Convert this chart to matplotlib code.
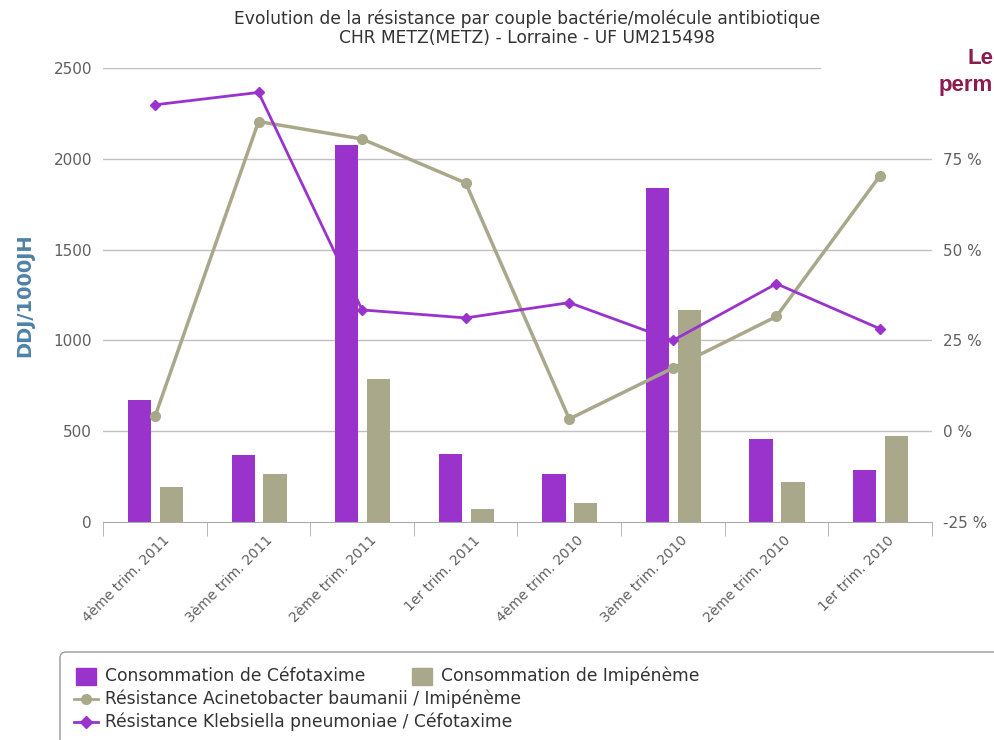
import numpy as np
import matplotlib
matplotlib.use('Agg')
from matplotlib import pyplot as plt
from matplotlib.patches import FancyBboxPatch, Rectangle
from matplotlib.lines import Line2D
import matplotlib.transforms as mtransforms

categories = ['4ème trim. 2011', '3ème trim. 2011', '2ème trim. 2011', '1er trim. 2011',
              '4ème trim. 2010', '3ème trim. 2010', '2ème trim. 2010', '1er trim. 2010']
conso_cefotaxime = [675, 370, 2075, 376, 264, 1840, 460, 288]
conso_imipeneme = [195, 263, 787, 73, 108, 1168, 220, 475]
resist_acinetobacter = [4.1, 85.2, 80.4, 68.3, 3.4, 17.4, 31.6, 70.3]
resist_klebsiella = [89.8, 93.2, 33.4, 31.2, 35.4, 25.0, 40.6, 28.2]

left_ticks = [0, 500, 1000, 1500, 2000, 2500]
right_ticks = [-25, 0, 25, 50, 75]
right_labels = ['-25 %', '0 %', '25 %', '50 %', '75 %']

purple = '#9933CC'
tan = '#A9A88B'
grid_col = '#C0C0C0'
txt_col = '#606060'

fig = plt.figure(figsize=(9.94, 7.40), dpi=100)
ax = fig.add_axes([0.1038, 0.2942, 0.8336, 0.6143])
x = np.arange(len(categories))

# horizontal grid (top one is cut by the box on the right)
for v in left_ticks[1:-1]:
    ax.axhline(v, color=grid_col, lw=1, zorder=0)
ax.axhline(2500, xmax=(820 - 103) / 829, color=grid_col, lw=1, zorder=0)

ax.bar(x - 0.148, conso_cefotaxime, width=0.225, color=purple, zorder=2)
ax.bar(x + 0.160, conso_imipeneme, width=0.225, color=tan, zorder=2)

ax.set_xlim(-0.5, len(categories) - 0.5)
ax.set_ylim(0, 2500)
ax.set_yticks(left_ticks)
ax.tick_params(axis='y', length=0, pad=8, labelcolor=txt_col, labelsize=11)
for s in ['left', 'right', 'top']:
    ax.spines[s].set_visible(False)
ax.spines['bottom'].set_color('#AAAAAA')

ax.set_xticks(x)
ax.set_xticklabels(categories, rotation=45, ha='right', color=txt_col, fontsize=10)
ax.set_xticks(np.arange(-0.5, len(categories), 1), minor=True)
ax.tick_params(axis='x', which='major', length=0, pad=8)
ax.tick_params(axis='x', which='minor', length=10, color='#AAAAAA')
shift = mtransforms.ScaledTranslation(0.17, 0, fig.dpi_scale_trans)
for lab in ax.get_xticklabels():
    lab.set_transform(lab.get_transform() + shift)

ax2 = ax.twinx()
ax2.set_ylim(-25, 100)
ax2.plot(x, resist_acinetobacter, color=tan, lw=2.5, marker='o', ms=7, zorder=3)
ax2.plot(x, resist_klebsiella, color=purple, lw=2, marker='D', ms=5, zorder=4)
ax2.set_yticks(right_ticks)
ax2.set_yticklabels(right_labels)
ax2.tick_params(axis='y', length=0, pad=8, labelcolor=txt_col, labelsize=11)
for s in ax2.spines.values():
    s.set_visible(False)

fig.text(0.025, 0.601, 'DDJ/1000JH', rotation=90, color='#4F82A8', fontsize=14,
         fontweight='bold', ha='center', va='center')

fig.text(0.53, 1 - 19 / 740, 'Evolution de la résistance par couple bactérie/molécule antibiotique',
         fontsize=12.3, color='#333333', ha='center', va='center')
fig.text(0.53, 1 - 38 / 740, 'CHR METZ(METZ) - Lorraine - UF UM215498',
         fontsize=12.3, color='#333333', ha='center', va='center')

fig.text(0.999, 1 - 59 / 740, 'Le', family='Liberation Sans', fontsize=16, fontweight='bold',
         color='#8A1D4E', ha='right', va='center')
fig.text(0.999, 1 - 86 / 740, 'perm', family='Liberation Sans', fontsize=16, fontweight='bold',
         color='#8A1D4E', ha='right', va='center')

# legend box (cut off at the right and bottom)
tr = fig.dpi_scale_trans
fig.add_artist(FancyBboxPatch((0.60, -0.3), 10.0, 1.18,
                              boxstyle='round,pad=0,rounding_size=0.06',
                              transform=tr, fc='white', ec='#999999', lw=1))
fig.add_artist(Rectangle((0.76, 0.555), 0.20, 0.17, transform=tr, color=purple))
fig.text(1.05, 0.64, 'Consommation de Céfotaxime', transform=tr,
         fontsize=12.3, color='#333333', va='center')
fig.add_artist(Rectangle((4.12, 0.555), 0.20, 0.17, transform=tr, color=tan))
fig.text(4.41, 0.64, 'Consommation de Imipénème', transform=tr,
         fontsize=12.3, color='#333333', va='center')
fig.add_artist(Line2D([0.74, 0.86, 0.98], [0.41, 0.41, 0.41], transform=tr, color=tan, lw=2,
                      marker='o', ms=7, markevery=[1]))
fig.text(1.05, 0.41, 'Résistance Acinetobacter baumanii / Imipénème', transform=tr,
         fontsize=12.3, color='#333333', va='center')
fig.add_artist(Line2D([0.74, 0.86, 0.98], [0.18, 0.18, 0.18], transform=tr, color=purple, lw=2,
                      marker='D', ms=6, markevery=[1]))
fig.text(1.05, 0.18, 'Résistance Klebsiella pneumoniae / Céfotaxime', transform=tr,
         fontsize=12.3, color='#333333', va='center')

fig.savefig('out.png', dpi=100)
